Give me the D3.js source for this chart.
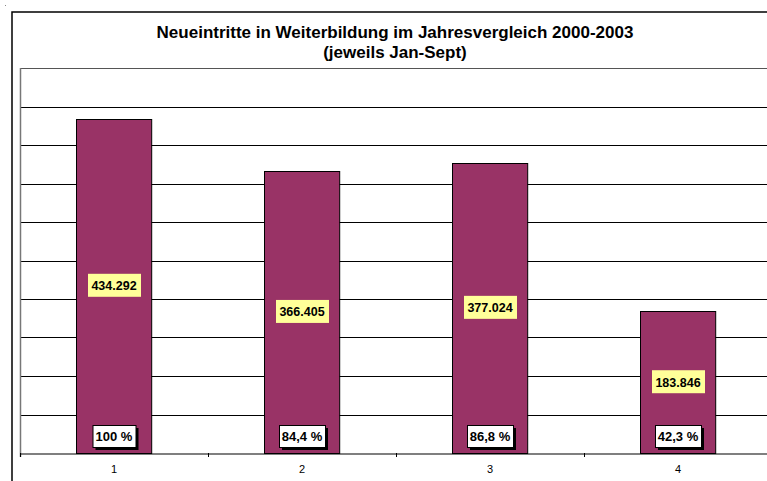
<!DOCTYPE html>
<html>
<head>
<meta charset="utf-8">
<script src="https://cdn.jsdelivr.net/npm/d3@7"></script>
<style>
  body { margin: 0; background: #fff; }
  text { font-family: "Liberation Sans", Arial, sans-serif; }
</style>
</head>
<body>
<div id="chart"></div>
<script>
// data
const categories = ["1", "2", "3", "4"];
const values = [434292, 366405, 377024, 183846];
const valueLabels = ["434.292", "366.405", "377.024", "183.846"];
const percentLabels = ["100 %", "84,4 %", "86,8 %", "42,3 %"];
const gridTicks = [0, 50000, 100000, 150000, 200000, 250000, 300000, 350000, 400000, 450000, 500000];

const width = 767, height = 481;
const plot = {left: 20, top: 68, right: 772, bottom: 453};

const svg = d3.select("#chart").append("svg")
  .attr("width", width)
  .attr("height", height);

// outer chart frame
svg.append("rect")
  .attr("x", 12).attr("y", 12)
  .attr("width", 800).attr("height", 500)
  .attr("fill", "#fff")
  .attr("stroke", "#000")
  .attr("stroke-width", 1.5);

svg.append("rect")
  .attr("x", 5).attr("y", 5).attr("width", 1).attr("height", 1)
  .attr("fill", "#888");

// title
const title = svg.append("text")
  .attr("text-anchor", "middle")
  .attr("font-weight", "bold")
  .attr("font-size", 17);
title.append("tspan").attr("x", 395).attr("y", 38).text("Neueintritte in Weiterbildung im Jahresvergleich 2000-2003");
title.append("tspan").attr("x", 395).attr("y", 58).text("(jeweils Jan-Sept)");

const x = d3.scaleBand()
  .domain(categories)
  .range([plot.left, plot.right])
  .paddingInner(0.6)
  .paddingOuter(0.3);

const y = d3.scaleLinear()
  .domain([0, 500000])
  .range([plot.bottom, plot.top]);

// gridlines
svg.append("g")
  .selectAll("line")
  .data(gridTicks.slice(1))
  .join("line")
  .attr("x1", plot.left).attr("x2", plot.right)
  .attr("y1", d => Math.round(y(d)) + 0.5)
  .attr("y2", d => Math.round(y(d)) + 0.5)
  .attr("stroke", d => d === 500000 ? "#555" : "#000")
  .attr("stroke-width", 1);

// left edge of plot area
svg.append("line")
  .attr("x1", plot.left + 0.5).attr("x2", plot.left + 0.5)
  .attr("y1", plot.top).attr("y2", plot.bottom + 4)
  .attr("stroke", "#777")
  .attr("stroke-width", 1.5);

// bars
svg.append("g")
  .selectAll("rect")
  .data(values)
  .join("rect")
  .attr("x", (d, i) => Math.round(x(categories[i])) + 0.5)
  .attr("y", d => Math.round(y(d)) + 0.5)
  .attr("width", x.bandwidth())
  .attr("height", d => Math.round(y(0)) - Math.round(y(d)))
  .attr("fill", "#993366")
  .attr("stroke", "#000")
  .attr("stroke-width", 1);

// category axis
const xAxis = d3.axisBottom(x).tickSize(0).tickPadding(12);
const axisG = svg.append("g")
  .attr("transform", "translate(0," + (Math.round(plot.bottom) + 0.5) + ")")
  .call(xAxis);
axisG.select(".domain").attr("stroke", "#000").attr("stroke-width", 1.2);
axisG.selectAll("text").attr("font-size", 11).attr("fill", "#000")
  .attr("font-family", "'Liberation Sans', Arial, sans-serif");

// tick marks between categories
const step = x.step();
svg.append("g")
  .selectAll("line")
  .data(d3.range(categories.length + 1))
  .join("line")
  .attr("x1", i => plot.left + i * step + 0.5)
  .attr("x2", i => plot.left + i * step + 0.5)
  .attr("y1", plot.bottom)
  .attr("y2", plot.bottom + 4)
  .attr("stroke", "#000");

// value labels (yellow)
const vl = svg.append("g")
  .selectAll("g")
  .data(values)
  .join("g")
  .attr("transform", (d, i) => "translate(" + (x(categories[i]) + x.bandwidth() / 2) + "," + ((y(d) + y(0)) / 2) + ")");
vl.append("rect")
  .attr("x", -26).attr("y", -12)
  .attr("width", 53).attr("height", 23)
  .attr("fill", "#ffff99");
vl.append("text")
  .attr("text-anchor", "middle")
  .attr("dy", "0.35em")
  .attr("font-weight", "bold")
  .attr("font-size", 12.5)
  .text((d, i) => valueLabels[i]);

// percent labels (white box with shadow)
const pl = svg.append("g")
  .selectAll("g")
  .data(percentLabels)
  .join("g")
  .attr("transform", (d, i) => "translate(" + Math.round(x(categories[i]) + x.bandwidth() / 2) + "," + (plot.bottom - 17) + ")");
pl.each(function(d) {
  const g = d3.select(this);
  const shadow = g.append("rect").attr("fill", "#000");
  const box = g.append("rect")
    .attr("fill", "#fff")
    .attr("stroke", "#000")
    .attr("stroke-width", 1);
  const t = g.append("text")
    .attr("text-anchor", "middle")
    .attr("y", 5)
    .attr("font-weight", "bold")
    .attr("font-size", 13)
    .text(d);
  const w = Math.round(t.node().getComputedTextLength()) + 6;
  shadow.attr("x", -w / 2 + 3).attr("y", -8).attr("width", w).attr("height", 22);
  box.attr("x", -w / 2 + 0.5).attr("y", -10.5).attr("width", w).attr("height", 22);
});
</script>
</body>
</html>
